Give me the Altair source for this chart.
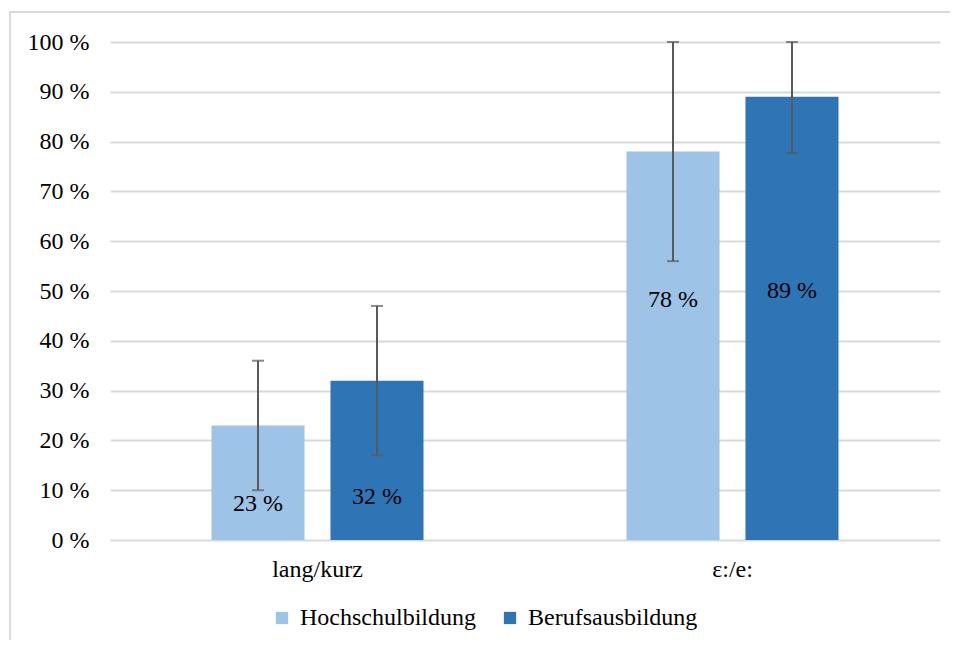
import altair as alt
import pandas as pd

categories = ["lang/kurz", "ε:/e:"]
series = ["Hochschulbildung", "Berufsausbildung"]
values = {
    "Hochschulbildung": [23, 78],
    "Berufsausbildung": [32, 89],
}
err_low = {
    "Hochschulbildung": [10, 56],
    "Berufsausbildung": [17, 77.7],
}
err_high = {
    "Hochschulbildung": [36, 100],
    "Berufsausbildung": [47, 100],
}
label_pos = {
    "Hochschulbildung": [7.3, 48.2],
    "Berufsausbildung": [8.6, 50.0],
}
colors = ["#9DC3E6", "#2E75B6"]

rows = []
for s in series:
    for i, c in enumerate(categories):
        rows.append({
            "cat": c, "series": s, "value": values[s][i],
            "lo": err_low[s][i], "hi": err_high[s][i],
            "lab": label_pos[s][i], "text": f"{values[s][i]} %",
        })
df = pd.DataFrame(rows)

FONT = "Liberation Serif"
FS = 24

x_enc = alt.X("cat:N", sort=categories, title=None,
              scale=alt.Scale(paddingInner=0, paddingOuter=0),
              axis=alt.Axis(labelAngle=0, ticks=False, domain=False, labelFont=FONT,
                            labelFontSize=FS, labelColor="#000000", labelPadding=17,
                            grid=False))
xo_enc = alt.XOffset("series:N", sort=series,
                     scale=alt.Scale(paddingInner=0.218, paddingOuter=0.853))
y_axis = alt.Axis(values=list(range(0, 101, 10)), labelExpr="datum.value + ' %'",
                  ticks=False, domain=False, labelFont=FONT, labelFontSize=FS,
                  labelColor="#000000", labelPadding=21, gridColor="#D9D9D9",
                  gridWidth=2, title=None)
y_scale = alt.Scale(domain=[0, 100], nice=False)

base = alt.Chart(df)

border = base.mark_rect(fill=None, stroke="#D9D9D9", strokeWidth=2).encode(
    x=alt.value(-100), x2=alt.value(900), y=alt.value(-30), y2=alt.value(700)
).transform_filter("datum.cat == 'lang/kurz' && datum.series == 'Hochschulbildung'")

bars = base.mark_bar().encode(
    x=x_enc,
    xOffset=xo_enc,
    y=alt.Y("value:Q", scale=y_scale, axis=y_axis),
    color=alt.Color("series:N", sort=series, scale=alt.Scale(domain=series, range=colors),
                    legend=alt.Legend(title=None, orient="none", legendX=160, legendY=564,
                                      direction="horizontal", symbolType="square",
                                      symbolSize=150, symbolStrokeWidth=0,
                                      labelFont=FONT, labelFontSize=FS, labelLimit=500,
                                      labelColor="#000000", columnPadding=22,
                                      labelOffset=6)),
)

rules = base.mark_rule(color="#595959", strokeWidth=2).encode(
    x=x_enc, xOffset=xo_enc,
    y=alt.Y("lo:Q", scale=y_scale, axis=y_axis), y2="hi:Q",
)
caps_lo = base.mark_tick(color="#595959", thickness=2, size=12, orient="horizontal").encode(
    x=x_enc, xOffset=xo_enc,
    y=alt.Y("lo:Q", scale=y_scale, axis=y_axis),
)
caps_hi = base.mark_tick(color="#595959", thickness=2, size=12, orient="horizontal").encode(
    x=x_enc, xOffset=xo_enc,
    y=alt.Y("hi:Q", scale=y_scale, axis=y_axis),
)
labels = base.mark_text(font=FONT, fontSize=FS, color="#000000", baseline="middle").encode(
    x=x_enc, xOffset=xo_enc,
    y=alt.Y("lab:Q", scale=y_scale, axis=y_axis), text="text:N",
)

chart = alt.layer(border, bars, rules, caps_lo, caps_hi, labels).properties(
    width=830, height=498,
    background="#FFFFFF",
    autosize=alt.AutoSizeParams(type="none"),
    padding={"left": 102, "top": 34, "right": 10, "bottom": 100},
).configure(font=FONT).configure_view(stroke=None).configure_axis(
    labelFont=FONT).configure_legend(labelFont=FONT).configure_text(font=FONT)

chart.save("out.html", embed_options={"renderer": "svg", "actions": False})
